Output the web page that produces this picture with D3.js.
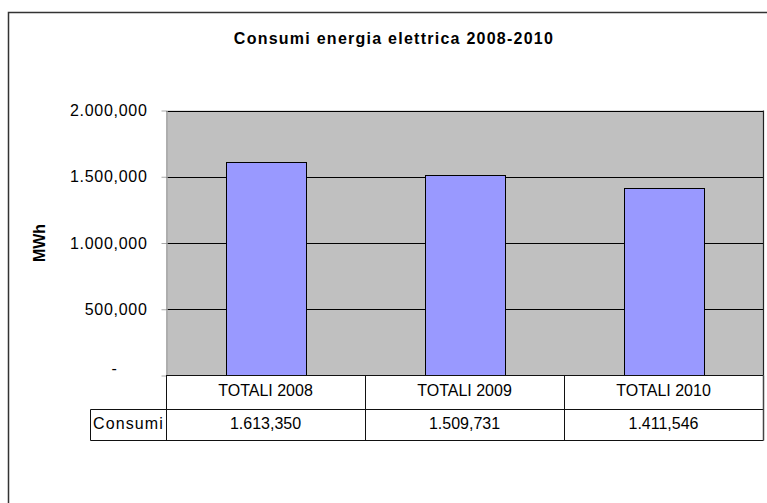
<!DOCTYPE html>
<html>
<head>
<meta charset="utf-8">
<script src="https://cdn.jsdelivr.net/npm/d3@7"></script>
<style>
  html, body { margin: 0; padding: 0; background: #fff; }
  svg { display: block; }
  text { font-family: "Liberation Sans", Arial, sans-serif; fill: #000; }
</style>
</head>
<body>
<svg id="chart" width="767" height="503"></svg>
<script>
// Annual electricity consumption (MWh)
const categories = ["TOTALI 2008", "TOTALI 2009", "TOTALI 2010"];
const consumi = [1613.350, 1509.731, 1411.546];
const tickValues = [0, 500, 1000, 1500, 2000];
const seriesName = "Consumi";
const title = "Consumi energia elettrica 2008-2010";
const yTitle = "MWh";

const it = d3.formatLocale({ decimal: ",", thousands: ".", grouping: [3], currency: ["€", ""] });
const fmt = it.format(",.3f");
const tickFmt = v => v === 0 ? "-" : fmt(v);

const FS = 16;
const svg = d3.select("#chart");

// outer chart frame
svg.append("rect")
  .attr("x", 8.5).attr("y", 12.5)
  .attr("width", 800).attr("height", 600)
  .attr("fill", "#fff").attr("stroke", "#333").attr("stroke-width", 1.5);

const plot = { left: 166, right: 763, top: 110.5, bottom: 375.5 };

const x = d3.scaleBand().domain(categories)
  .range([plot.left, plot.right]).paddingInner(0).paddingOuter(0);
const y = d3.scaleLinear().domain([0, 2000]).range([plot.bottom, plot.top]);

// plot area background
svg.append("rect")
  .attr("x", plot.left).attr("y", plot.top)
  .attr("width", plot.right - plot.left).attr("height", plot.bottom - plot.top)
  .attr("fill", "#c0c0c0");

// horizontal gridlines
svg.append("g").selectAll("line")
  .data(tickValues.filter(v => v > 0))
  .join("line")
  .attr("x1", plot.left).attr("x2", plot.right)
  .attr("y1", d => Math.round(y(d)) + 0.5).attr("y2", d => Math.round(y(d)) + 0.5)
  .attr("stroke", "#000").attr("stroke-width", 1);

// plot area right edge
svg.append("line")
  .attr("x1", plot.right + 0.5).attr("x2", plot.right + 0.5)
  .attr("y1", plot.top).attr("y2", plot.bottom)
  .attr("stroke", "#222").attr("stroke-width", 1.2);

// bars
const barW = x.bandwidth() * 0.4;
svg.append("g").selectAll("rect")
  .data(categories.map((c, i) => ({ c, v: consumi[i] })))
  .join("rect")
  .attr("x", d => Math.round(x(d.c) + (x.bandwidth() - barW) / 2) + 0.5)
  .attr("y", d => Math.round(y(d.v)) + 0.5)
  .attr("width", Math.round(barW))
  .attr("height", d => plot.bottom - Math.round(y(d.v)) - 0.5)
  .attr("fill", "#9999ff").attr("stroke", "#000").attr("stroke-width", 1);

// value axis
const yAxis = d3.axisLeft(y).tickValues(tickValues).tickFormat(tickFmt)
  .tickSizeInner(5).tickSizeOuter(0).tickPadding(14);
const gy = svg.append("g")
  .attr("transform", `translate(${plot.left + 0.5},0)`)
  .call(yAxis);
gy.attr("font-size", FS).attr("font-family", "'Liberation Sans', Arial, sans-serif");
gy.select(".domain").attr("stroke", "#a8a8a8").attr("stroke-width", 1.5);
gy.selectAll(".tick line").attr("stroke", "#a8a8a8");
gy.selectAll(".tick text")
  .attr("fill", "#000")
  .attr("letter-spacing", 0.7)
  .attr("dx", d => d === 0 ? -30 : 0)
  .attr("dy", d => d === 0 ? "-0.15em" : "0.32em");

// data table under the category axis
const tb = { top: 375.5, mid: 409.5, bottom: 440.5, left: 90.5 };
const table = svg.append("g").attr("font-size", FS);
const tStroke = "#111";
table.append("line").attr("x1", plot.left).attr("x2", plot.right + 0.5)
  .attr("y1", tb.top).attr("y2", tb.top).attr("stroke", tStroke);
table.append("line").attr("x1", tb.left).attr("x2", plot.right + 0.5)
  .attr("y1", tb.mid).attr("y2", tb.mid).attr("stroke", tStroke);
table.append("line").attr("x1", tb.left).attr("x2", plot.right + 0.5)
  .attr("y1", tb.bottom).attr("y2", tb.bottom).attr("stroke", tStroke);
table.append("line").attr("x1", tb.left).attr("x2", tb.left)
  .attr("y1", tb.mid).attr("y2", tb.bottom).attr("stroke", tStroke);
const colEdges = [plot.left + 0.5].concat(categories.map(c => Math.round(x(c) + x.bandwidth()) + 0.5));
table.selectAll("line.col").data(colEdges).join("line")
  .attr("class", "col")
  .attr("x1", d => d).attr("x2", d => d)
  .attr("y1", tb.top).attr("y2", tb.bottom)
  .attr("stroke", (d, i) => i === colEdges.length - 1 ? "#444" : tStroke)
  .attr("stroke-width", (d, i) => i === colEdges.length - 1 ? 1.5 : 1);

table.selectAll("text.cat").data(categories).join("text")
  .attr("class", "cat")
  .attr("x", d => x(d) + x.bandwidth() / 2)
  .attr("y", 395.5)
  .attr("text-anchor", "middle")
  .text(d => d);

table.selectAll("text.val").data(consumi).join("text")
  .attr("class", "val")
  .attr("x", (d, i) => x(categories[i]) + x.bandwidth() / 2)
  .attr("y", 428.5)
  .attr("text-anchor", "middle")
  .text(d => fmt(d));

table.append("text")
  .attr("x", tb.left + 2.5).attr("y", 428.5)
  .attr("letter-spacing", 1.1)
  .text(seriesName);

// chart title
svg.append("text")
  .attr("x", 394).attr("y", 44)
  .attr("text-anchor", "middle")
  .attr("font-size", FS).attr("font-weight", "bold")
  .attr("letter-spacing", 1.25)
  .text(title);

// value axis title
svg.append("text")
  .attr("transform", `translate(45,243) rotate(-90)`)
  .attr("text-anchor", "middle")
  .attr("font-size", FS).attr("font-weight", "bold")
  .text(yTitle);
</script>
</body>
</html>
